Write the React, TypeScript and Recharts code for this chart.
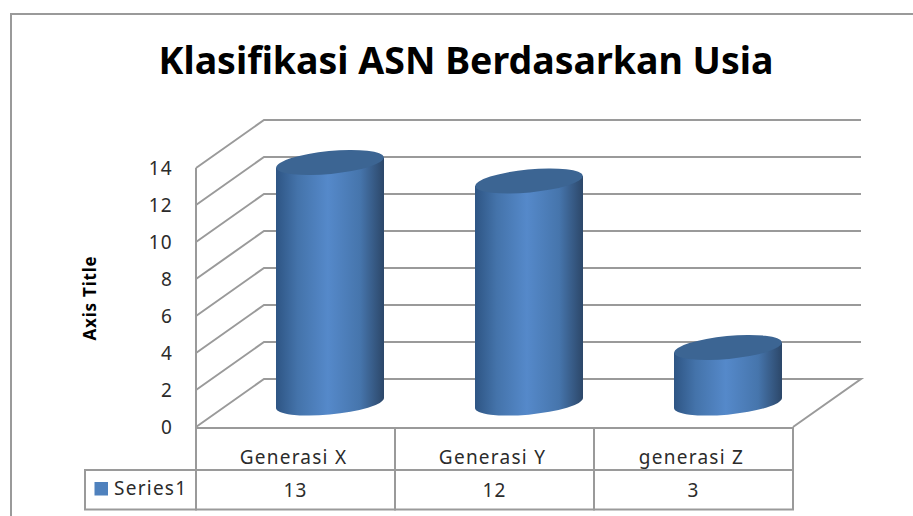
import React from "react";
import { BarChart, Bar, XAxis, YAxis, CartesianGrid } from "recharts";

const categories = ["Generasi X", "Generasi Y", "generasi Z"];
const values = [13, 12, 3];
const seriesName = "Series1";
const yTicks = [0, 2, 4, 6, 8, 10, 12, 14];
const chartTitle = "Klasifikasi ASN Berdasarkan Usia";
const axisTitle = "Axis Title";

const data = categories.map((c, i) => ({ category: c, value: values[i], label: String(values[i]) }));

const W = 913;
const H = 516;
const PLOT_L = 196;
const PLOT_R = 793;
const PLOT_T = 168;
const PLOT_B = 427;
const DEPTH_X = 68;
const DEPTH_Y = 48;
const BAND = (PLOT_R - PLOT_L) / categories.length;
const LINE = "#9a9a9a";
const STROKE = 2;
const FONT = "'Noto Sans', sans-serif";
const TEXT = "#2b2b2b";
const LS = 1.25;

const gridLine = (p: any) => {
  const { x1, x2, y1, index } = p;
  const bx = x1 + DEPTH_X;
  const by = y1 - DEPTH_Y;
  const isFloor = Math.abs(y1 - PLOT_B) < 1;
  const pts = `${x1},${y1} ${bx},${by} ${x2 + DEPTH_X},${by}` + (isFloor ? ` ${x2},${y1}` : "");
  return <polyline key={`g${index}`} points={pts} fill="none" stroke={LINE} strokeWidth={STROKE} />;
};

const Cylinder = (p: any) => {
  const { x, y, width, height, index } = p;
  const cx = x + width / 2 + DEPTH_X / 2;
  const shiftY = -DEPTH_Y / 2;
  const top = y + shiftY;
  const bottom = y + height + shiftY;
  const rx = 54;
  const ry = 11.5;
  const rot = -5.5;
  const off = 4.9;
  const id = `cyl${index}`;
  return (
    <g>
      <defs>
        <linearGradient id={id} x1="0" y1="0" x2="1" y2="0">
          <stop offset="0%" stopColor="#2e5584" />
          <stop offset="20%" stopColor="#4473aa" />
          <stop offset="48%" stopColor="#5589ca" />
          <stop offset="78%" stopColor="#4675ac" />
          <stop offset="100%" stopColor="#2c4769" />
        </linearGradient>
      </defs>
      <path
        d={`M${cx - rx},${top + off} L${cx - rx},${bottom + off} A${rx},${ry} ${rot} 0 0 ${cx + rx},${bottom - off} L${cx + rx},${top - off} Z`}
        fill={`url(#${id})`}
      />
      <ellipse cx={cx} cy={top} rx={rx} ry={ry} transform={`rotate(${rot} ${cx} ${top})`} fill="#3c6593" />
    </g>
  );
};

const CategoryTick = (p: any) => {
  const { x, payload } = p;
  return (
    <g>
      <rect x={x - BAND / 2} y={PLOT_B + 1} width={BAND} height={42} fill="none" stroke={LINE} strokeWidth={STROKE} />
      <text x={x - 2} y={464} textAnchor="middle" fontFamily={FONT} fontSize={19} letterSpacing={LS} fill={TEXT}>
        {payload.value}
      </text>
    </g>
  );
};

const ValueTick = (p: any) => {
  const { x, payload, index } = p;
  return (
    <g>
      <rect x={x - BAND / 2} y={470} width={BAND} height={39.5} fill="none" stroke={LINE} strokeWidth={STROKE} />
      <text x={x} y={497} textAnchor="middle" fontFamily={FONT} fontSize={19} letterSpacing={LS} fill={TEXT}>
        {payload.value}
      </text>
      {index === 0 && (
        <g>
          <rect x={85} y={470} width={PLOT_L - 85} height={39.5} fill="none" stroke={LINE} strokeWidth={STROKE} />
          <rect x={94.5} y={482} width={13.5} height={13.5} fill="#4f81bd" />
          <text x={114} y={495} fontFamily={FONT} fontSize={19} letterSpacing={LS} fill={TEXT}>
            {seriesName}
          </text>
        </g>
      )}
    </g>
  );
};

const YTick = (p: any) => {
  const { y, payload } = p;
  return (
    <text x={173} y={y + 7} textAnchor="end" fontFamily={FONT} fontSize={19} letterSpacing={LS} fill={TEXT}>
      {payload.value}
    </text>
  );
};

export default function App() {
  return (
    <div style={{ position: "absolute", left: 0, top: 0, width: W, height: H, background: "#fff", overflow: "hidden" }}>
      <div style={{ position: "absolute", left: 10, top: 13, right: -5, bottom: -5, borderLeft: `2px solid ${LINE}`, borderTop: `2px solid ${LINE}` }} />
      <BarChart
        width={W}
        height={H}
        data={data}
        margin={{ top: PLOT_T, right: W - PLOT_R, bottom: H - PLOT_B - 83, left: PLOT_L - 40 }}
        style={{ position: "absolute", left: 0, top: 0 }}
      >
        <text x={466} y={74} textAnchor="middle" fontFamily={FONT} fontWeight={700} fontSize={37.5} fill="#000">
          {chartTitle}
        </text>
        <text
          x={96}
          y={298}
          textAnchor="middle"
          fontFamily={FONT}
          fontWeight={700}
          fontSize={17}
          letterSpacing={0.8}
          fill="#000"
          transform="rotate(-90 96 298)"
        >
          {axisTitle}
        </text>
        <CartesianGrid horizontal={gridLine} vertical={false} />
        <XAxis dataKey="category" axisLine={false} tickLine={false} height={42} tick={<CategoryTick />} interval={0} />
        <XAxis xAxisId="values" dataKey="label" axisLine={false} tickLine={false} height={41} tick={<ValueTick />} interval={0} />
        <YAxis
          domain={[0, 14]}
          ticks={yTicks}
          width={40}
          interval={0}
          axisLine={{ stroke: LINE, strokeWidth: STROKE }}
          tickLine={false}
          tick={<YTick />}
        />
        <Bar dataKey="value" name={seriesName} barSize={108} shape={<Cylinder />} isAnimationActive={false} />
      </BarChart>
    </div>
  );
}
